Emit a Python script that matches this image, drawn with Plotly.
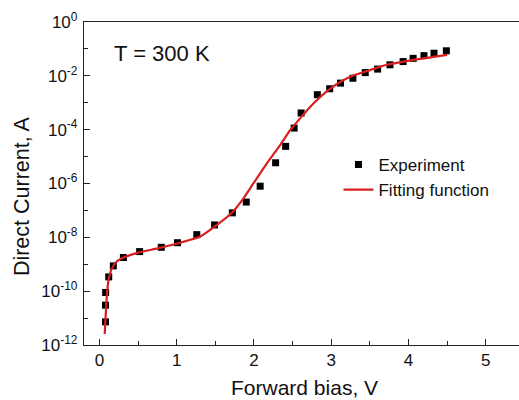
import plotly.graph_objects as go

# Experimental points: forward bias (V) and log10 of direct current (A)
exp_v = [0.078, 0.078, 0.08, 0.12, 0.18, 0.31, 0.52, 0.80, 1.01, 1.26, 1.49, 1.72, 1.90, 2.08,
         2.28, 2.41, 2.52, 2.61, 2.82, 2.98, 3.12, 3.28, 3.44, 3.60, 3.76, 3.93, 4.06, 4.20, 4.33, 4.49]
exp_log_i = [-11.14, -10.52, -10.05, -9.47, -9.06, -8.75, -8.53, -8.37, -8.20, -7.90, -7.54, -7.09, -6.69, -6.10,
             -5.23, -4.62, -3.94, -3.38, -2.70, -2.48, -2.27, -2.09, -1.88, -1.75, -1.59, -1.47, -1.35, -1.25, -1.16, -1.07]

# Fitting function
fit_v = [0.068, 0.078, 0.090, 0.103, 0.120, 0.155, 0.22, 0.284, 0.50, 0.75, 1.02, 1.305, 1.521, 1.714,
         1.864, 1.994, 2.167, 2.339, 2.468, 2.597, 2.769, 2.942, 3.114, 3.29, 3.50, 3.72, 4.15, 4.50]
fit_log_i = [-11.59, -11.04, -10.42, -9.93, -9.56, -9.19, -8.91, -8.79, -8.57, -8.41, -8.22, -7.97, -7.54, -7.09,
             -6.55, -5.99, -5.25, -4.57, -4.02, -3.58, -3.03, -2.58, -2.23, -1.98, -1.79, -1.59, -1.37, -1.22]

y_tick_exps = [0, -2, -4, -6, -8, -10, -12]
y_minor_exps = [-1, -3, -5, -7, -9, -11]
x_ticks = [0, 1, 2, 3, 4, 5]

exp_i = [10 ** e for e in exp_log_i]
fit_i = [10 ** e for e in fit_log_i]

FONT = "Liberation Sans, Arial, sans-serif"
AX = "#222222"
TXT = "#111111"

fig = go.Figure()
fig.add_trace(go.Scatter(
    x=exp_v, y=exp_i, mode="markers", name="Experiment",
    marker=dict(symbol="square", size=7, color="black"),
))
fig.add_trace(go.Scatter(
    x=fit_v, y=fit_i, mode="lines", name="Fitting function",
    line=dict(color="#d81e1e", width=2.2, shape="spline", smoothing=0.5),
))

fig.update_layout(
    width=519, height=400,
    margin=dict(l=84, r=0, t=22, b=55),
    paper_bgcolor="white", plot_bgcolor="white",
    font=dict(family=FONT, color=TXT),
    showlegend=True,
    legend=dict(
        x=0.585, y=0.613, xanchor="left", yanchor="top",
        bgcolor="rgba(0,0,0,0)", font=dict(size=17, family=FONT, color=TXT),
        tracegroupgap=0,
    ),
    annotations=[
        dict(text="T = 300 K", x=0.065, y=0.902, xref="paper", yref="paper",
             xanchor="left", yanchor="middle", showarrow=False,
             font=dict(size=22, family=FONT, color=TXT)),
        dict(text="Forward bias, V", x=0.506, y=-0.133, xref="paper", yref="paper",
             xanchor="center", yanchor="middle", showarrow=False,
             font=dict(size=21, family=FONT, color=TXT)),
        dict(text="Direct Current, A", x=-0.1425, y=0.461, xref="paper", yref="paper",
             xanchor="center", yanchor="middle", showarrow=False, textangle=-90,
             font=dict(size=21.5, family=FONT, color=TXT)),
    ],
)

fig.update_xaxes(
    range=[-0.2, 5.43], showgrid=False, zeroline=False,
    showline=True, linecolor=AX, linewidth=1.3, mirror=True,
    ticks="inside", ticklen=6, tickwidth=1.2, tickcolor=AX,
    tickvals=x_ticks, ticktext=[str(v) for v in x_ticks],
    tickfont=dict(size=17, family=FONT, color=TXT), ticklabelstandoff=-1,
    minor=dict(ticks="inside", dtick=0.5, tick0=0, ticklen=4, tickwidth=1.2, tickcolor=AX, showgrid=False),
)
fig.update_yaxes(
    type="log", range=[-12, 0], showgrid=False, zeroline=False,
    showline=True, linecolor=AX, linewidth=1.3, mirror=False,
    ticks="inside", ticklen=6, tickwidth=1.2, tickcolor=AX,
    tickvals=[10 ** e for e in y_tick_exps],
    ticktext=[f"10<sup>{e}</sup>" for e in y_tick_exps],
    tickfont=dict(size=17, family=FONT, color=TXT), ticklabelstandoff=2,
    minor=dict(ticks="inside", tickvals=[10 ** e for e in y_minor_exps], ticklen=4, tickwidth=1.2, tickcolor=AX, showgrid=False),
)

# Remove the browser's default 8px body margin so the figure sits at the page origin
fig.write_html("out.html", config={"displayModeBar": False},
               post_script="document.body.style.margin='0';")
